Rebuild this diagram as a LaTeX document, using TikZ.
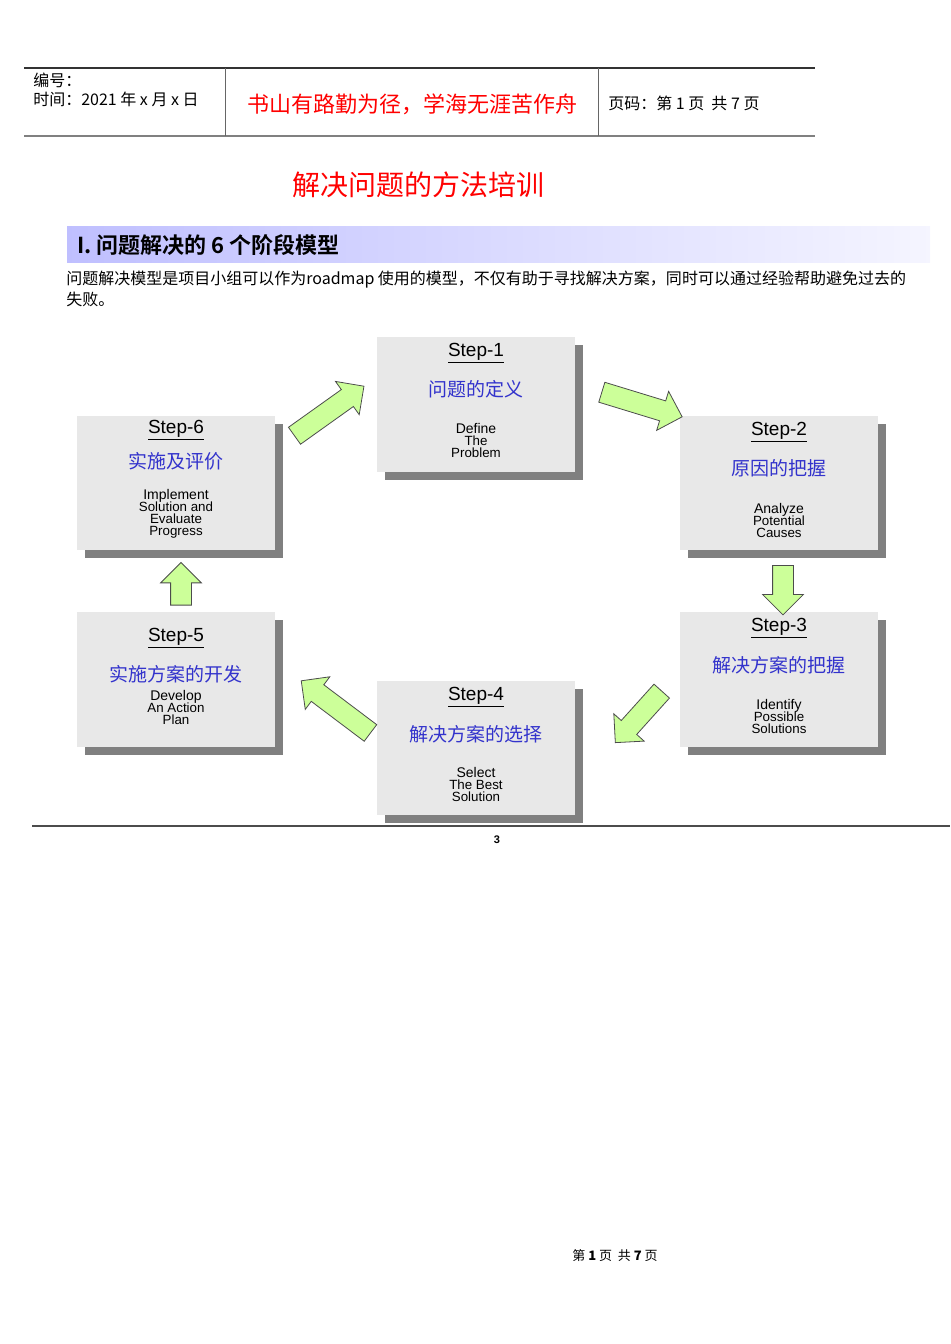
\documentclass[tikz,border=0pt]{standalone}
\usepackage{fontspec}
\setmainfont{Liberation Sans}
\newfontfamily\cjk{Noto Sans CJK SC}
\newfontfamily\cjkb{Noto Sans CJK SC Bold}
\usetikzlibrary{shapes.arrows}
\definecolor{boxg}{HTML}{E8E8E8}
\definecolor{shad}{HTML}{808080}
\definecolor{agreen}{HTML}{CCFF99}
\definecolor{cblue}{HTML}{3333CC}
\newcommand{\fs}[1]{\fontsize{\the\dimexpr#1pt*3/4\relax}{\the\dimexpr#1pt*17/20\relax}\selectfont}
\tikzset{
  stepbox/.style={fill=boxg, minimum width=148.5pt, minimum height=101pt, inner sep=0pt},
  shadowbox/.style={fill=shad, minimum width=148.5pt, minimum height=101pt, inner sep=0pt},
  blk/.style={single arrow, draw=black!70, fill=agreen, line width=0.6pt, inner xsep=0pt, inner ysep=7.5pt,
     single arrow head extend=7.5pt, single arrow tip angle=90},
  lbl/.style={align=center, inner sep=0pt}
}
\begin{document}
\begin{tikzpicture}[x=0.75pt,y=-0.75pt]
\useasboundingbox (0,0) rectangle (950,1344);
% header
\draw[black!80, line width=0.8pt] (24,68) coordinate (h1) -- (815,68) coordinate (h2);
\draw[black!50, line width=1.5pt] (24,136) coordinate (h3) -- (815,136) coordinate (h4);
\draw[black!60] (225,68) coordinate (v1) -- (225,136) coordinate (v2);
\draw[black!60] (598,68) coordinate (v3) -- (598,136) coordinate (v4);
\node[anchor=west, inner sep=0pt] (hl1) at (33,80) {\cjk\fs{16}编号：};
\node[anchor=west, inner sep=0pt] (hl2) at (33,99) {\cjk\fs{16}时间：2021 年 x 月 x 日};
\node[text=red, inner sep=0pt] (motto) at (412,104) {\cjk\fs{22}书山有路勤为径，学海无涯苦作舟};
\node[anchor=west, inner sep=0pt] (pg) at (608,103) {\cjk\fs{16}页码：第 1 页 \ 共 7 页};
% title
\node[text=red, inner sep=0pt] (title) at (418,185) {\cjk\fs{28}解决问题的方法培训};
% band
\shade[left color=blue!25, right color=blue!4] (67,227) rectangle (930,263);
\node[anchor=west, inner sep=0pt] (band) at (77,245) {\cjkb\fs{22}I. 问题解决的 6 个阶段模型};
\node[anchor=west, inner sep=0pt] (p1) at (66,280) {\cjk\fs{16}问题解决模型是项目小组可以作为roadmap 使用的模型，不仅有助于寻找解决方案，同时可以通过经验帮助避免过去的};
\node[anchor=west, inner sep=0pt] (p2) at (66,299) {\cjk\fs{16}失败。};
% boxes
\foreach \n/\x/\y in {1/476/404.5, 2/779/483, 3/779/679.5, 4/476/748, 5/176/679.5, 6/176/483}{
  \node[shadowbox] (sh\n) at (\x+8,\y+8) {};
  \node[stepbox] (s\n) at (\x,\y) {};
}
% step 1
\node[lbl] (t1a) at (476,353) {\fs{19}\underline{Step-1}};
\node[lbl, text=cblue] (t1b) at (476,389) {\cjk\fs{19}问题的定义};
\node[lbl] (t1c) at (476,440) {\fs{14}Define\\[-3pt]The\\[-3pt]Problem};
% step 2
\node[lbl] (t2a) at (779,432) {\fs{19}\underline{Step-2}};
\node[lbl, text=cblue] (t2b) at (779,468) {\cjk\fs{19}原因的把握};
\node[lbl] (t2c) at (779,520) {\fs{14}Analyze\\[-3pt]Potential\\[-3pt]Causes};
% step 3
\node[lbl] (t3a) at (779,628) {\fs{19}\underline{Step-3}};
\node[lbl, text=cblue] (t3b) at (779,665) {\cjk\fs{19}解决方案的把握};
\node[lbl] (t3c) at (779,716) {\fs{14}Identify\\[-3pt]Possible\\[-3pt]Solutions};
% step 4
\node[lbl] (t4a) at (476,697) {\fs{19}\underline{Step-4}};
\node[lbl, text=cblue] (t4b) at (476,734) {\cjk\fs{19}解决方案的选择};
\node[lbl] (t4c) at (476,784) {\fs{14}Select\\[-3pt]The Best\\[-3pt]Solution};
% step 5
\node[lbl] (t5a) at (176,638) {\fs{19}\underline{Step-5}};
\node[lbl, text=cblue] (t5b) at (176,674) {\cjk\fs{19}实施方案的开发};
\node[lbl] (t5c) at (176,707) {\fs{14}Develop\\[-3pt]An Action\\[-3pt]Plan};
% step 6
\node[lbl] (t6a) at (176,430) {\fs{19}\underline{Step-6}};
\node[lbl, text=cblue] (t6b) at (176,461) {\cjk\fs{19}实施及评价};
\node[lbl] (t6c) at (176,514) {\fs{14}Implement\\[-3pt]Solution and\\[-3pt]Evaluate\\[-3pt]Progress};
% arrows
\node[blk, minimum height=64pt, rotate=35.5] (a61) at (325,414) {};
\node[blk, minimum height=63pt, rotate=-17] (a12) at (637,403) {};
\node[blk, minimum height=37pt, rotate=-90] (a23) at (783,585) {};
\node[blk, minimum height=52pt, rotate=-132] (a34) at (642,713) {};
\node[blk, minimum height=65pt, rotate=143] (a45) at (340,710) {};
\node[blk, minimum height=32pt, rotate=90] (a56) at (181,589) {};
% bottom
\draw[black!70, line width=0.8pt] (32,826) coordinate (b1) -- (950,826) coordinate (b2);
\node[inner sep=0pt] (pn) at (497,840) {\bfseries\fs{11}3};
\node[inner sep=0pt] (foot) at (615,1256) {\cjk\fs{13}第 \textbf{1} 页 \ 共 \textbf{7} 页};
\end{tikzpicture}
\end{document}
